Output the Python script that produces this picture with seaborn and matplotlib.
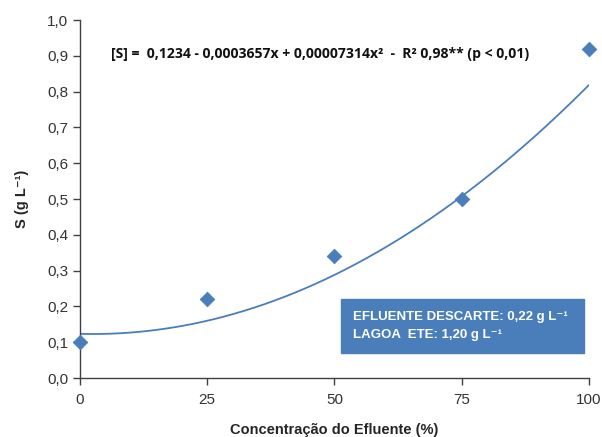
import numpy as np
import pandas as pd
import seaborn as sns
import matplotlib
matplotlib.use("Agg")
import matplotlib.pyplot as plt

# valores
concentracao = [0, 25, 50, 75, 100]
s_medido = [0.10, 0.22, 0.34, 0.50, 0.92]
# coeficientes da regressão quadrática (a + b*x + c*x^2), do texto da figura
coef = [0.1234, -0.0003657, 0.00007314]
y_ticks = [0.0, 0.1, 0.2, 0.3, 0.4, 0.5, 0.6, 0.7, 0.8, 0.9, 1.0]
x_ticks = [0, 25, 50, 75, 100]

azul = "#4a7ebb"

sns.set_style("white")
plt.rcParams["font.family"] = ["Liberation Sans", "DejaVu Sans"]

fig = plt.figure(figsize=(6.02, 4.37), dpi=100)
ax = fig.add_axes([0.133, 0.135, 0.845, 0.819])

xs = np.linspace(0, 100, 200)
curva = pd.DataFrame({"x": xs, "y": coef[0] + coef[1] * xs + coef[2] * xs ** 2})
pontos = pd.DataFrame({"x": concentracao, "y": s_medido})

sns.lineplot(data=curva, x="x", y="y", color=azul, linewidth=1.3, ax=ax)
sns.scatterplot(data=pontos, x="x", y="y", marker="D", s=55, color=azul,
                edgecolor=azul, ax=ax, zorder=3, clip_on=False)

ax.set_xlim(0, 100)
ax.set_ylim(0, 1.0)
ax.set_xticks(x_ticks)
ax.set_yticks(y_ticks)
ax.set_yticklabels([f"{v:.1f}".replace(".", ",") for v in y_ticks])
ax.tick_params(axis="both", direction="out", length=5, width=1, color="#404040",
               labelsize=11, labelcolor="#333333", left=True, bottom=True)
ax.tick_params(axis="x", pad=6)
for lado in ["top", "right"]:
    ax.spines[lado].set_visible(False)
for lado in ["left", "bottom"]:
    ax.spines[lado].set_color("#404040")
    ax.spines[lado].set_linewidth(1)

ax.set_xlabel("Concentração do Efluente (%)", fontsize=10.5, fontweight="bold",
              labelpad=11)
ax.set_ylabel("S (g L⁻¹)", fontsize=10.5, fontweight="bold", labelpad=13)

ax.text(0.061, 0.905,
        "[S] =  0,1234 - 0,0003657x + 0,00007314x²  -  R² 0,98** (p < 0,01)",
        transform=ax.transAxes, fontsize=10.1, fontweight="bold",
        family=["Open Sans", "DejaVu Sans"], va="center", color="#111111")

# caixa com os valores de referência
fig.patches.append(plt.Rectangle((341 / 602, 1 - 353 / 437), 243 / 602, 54 / 437,
                                 transform=fig.transFigure, color=azul, zorder=5))
fig.text(353 / 602, 1 - 317 / 437, "EFLUENTE DESCARTE: 0,22 g L⁻¹",
         color="white", fontsize=9.5, fontweight="bold", va="center", zorder=6)
fig.text(353 / 602, 1 - 335 / 437, "LAGOA  ETE: 1,20 g L⁻¹",
         color="white", fontsize=9.5, fontweight="bold", va="center", zorder=6)

plt.savefig("out.png", dpi=100)
